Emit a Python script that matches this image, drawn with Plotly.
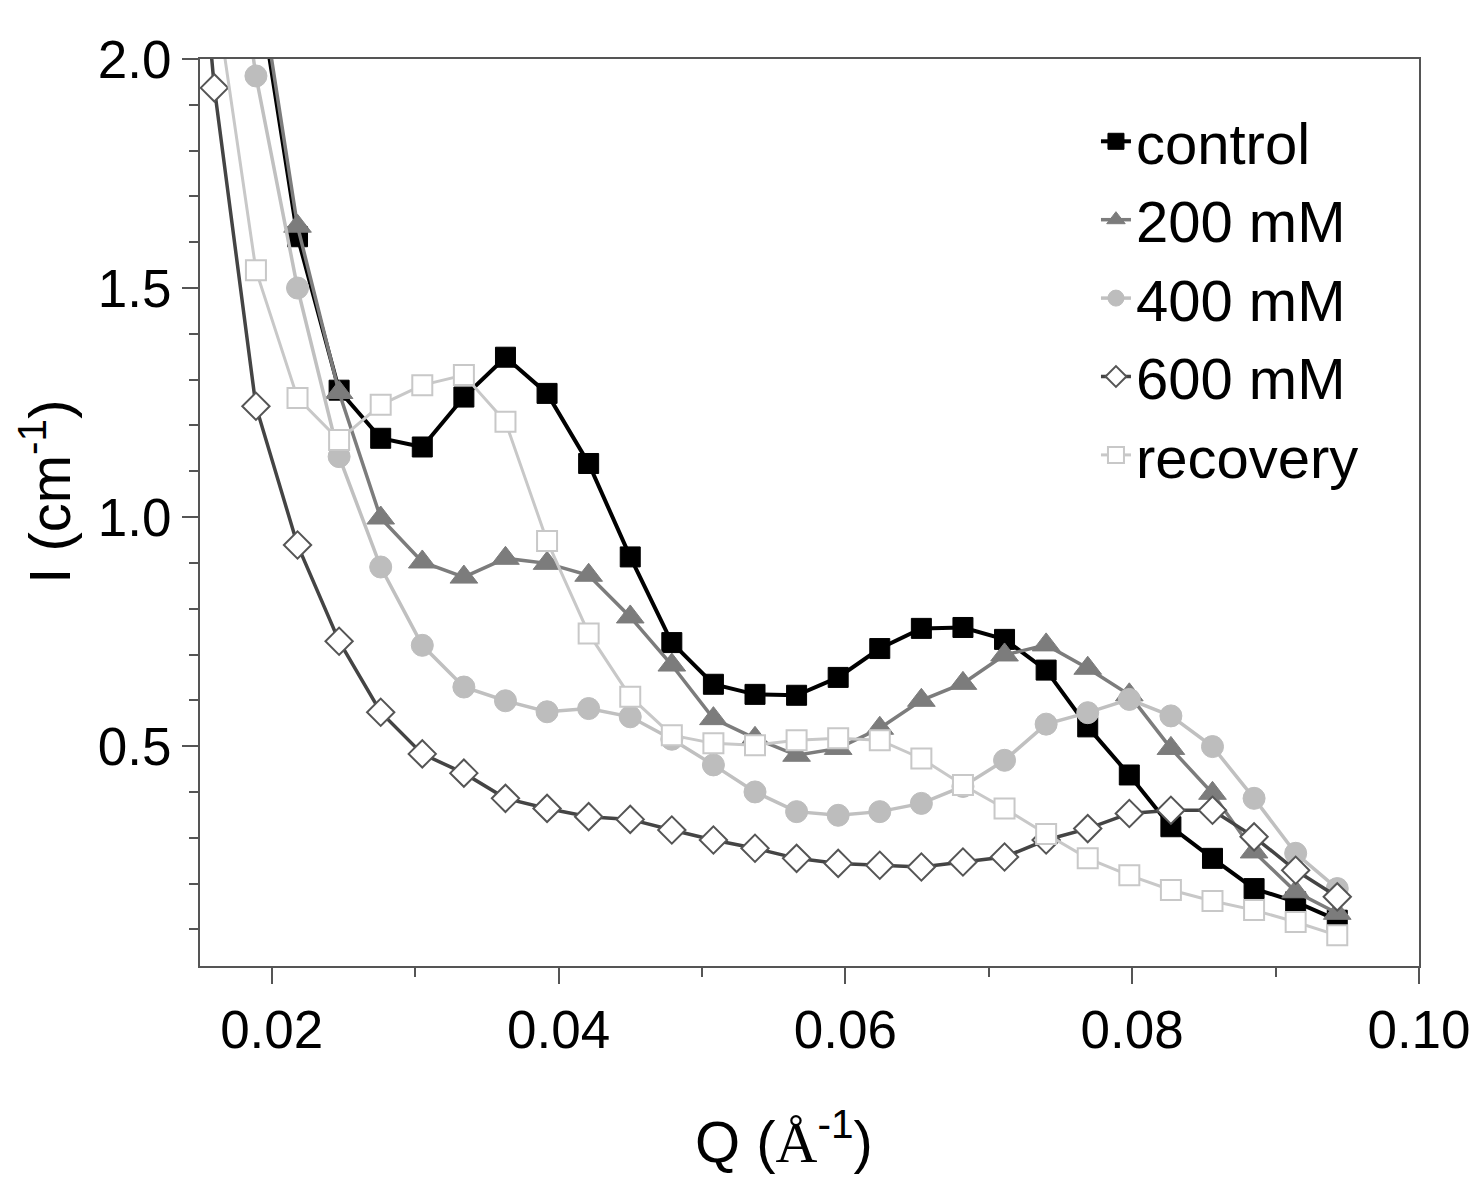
import plotly.graph_objects as go

# Scattering vector Q (1/Angstrom)
q = [0.0131, 0.0160, 0.0189, 0.0218, 0.0247, 0.0276, 0.0305, 0.0334, 0.0363, 0.0392,
     0.0421, 0.0450, 0.0479, 0.0508, 0.0537, 0.0566, 0.0595, 0.0624, 0.0653,
     0.0682, 0.0711, 0.0740, 0.0769, 0.0798, 0.0827, 0.0856, 0.0885, 0.0914, 0.0943]

# Intensity I (1/cm)
control = [None, 2.90, 2.19, 1.612, 1.277, 1.172, 1.153, 1.262, 1.349, 1.270,
           1.117, 0.913, 0.726, 0.635, 0.613, 0.611, 0.650, 0.713, 0.757,
           0.759, 0.733, 0.666, 0.542, 0.437, 0.324, 0.255, 0.189, 0.160, 0.12]
mm200 = [None, 2.95, 2.22, 1.635, 1.272, 0.998, 0.902, 0.869, 0.910, 0.899,
         0.873, 0.782, 0.677, 0.560, 0.517, 0.480, 0.495, 0.539, 0.600,
         0.637, 0.699, 0.721, 0.670, 0.612, 0.495, 0.397, 0.269, 0.182, 0.135]
mm400 = [None, 2.60, 1.963, 1.500, 1.132, 0.891, 0.720, 0.629, 0.599, 0.575,
         0.582, 0.564, 0.515, 0.459, 0.400, 0.357, 0.349, 0.357, 0.375,
         0.412, 0.469, 0.548, 0.573, 0.602, 0.566, 0.499, 0.386, 0.266, 0.189]
mm600 = [2.95, 1.937, 1.242, 0.939, 0.729, 0.574, 0.483, 0.441, 0.386, 0.364,
         0.346, 0.340, 0.317, 0.295, 0.277, 0.255, 0.244, 0.240, 0.236,
         0.247, 0.258, 0.295, 0.320, 0.353, 0.360, 0.360, 0.302, 0.229, 0.171]
recovery = [None, 2.16, 1.539, 1.260, 1.168, 1.245, 1.288, 1.310, 1.208, 0.948,
            0.746, 0.608, 0.524, 0.506, 0.502, 0.513, 0.517, 0.513, 0.473,
            0.415, 0.364, 0.308, 0.255, 0.218, 0.186, 0.162, 0.142, 0.116, 0.087]

names = ["control", "200 mM", "400 mM", "600 mM", "recovery"]

FONT = "Liberation Sans, Arial, sans-serif"

fig = go.Figure()

series = [
    (control, names[0], dict(symbol="square", size=20, color="#000000",
                             line=dict(color="#000000", width=1)), "#000000", 4),
    (mm200, names[1], dict(symbol="triangle-up", size=24, color="#7c7c7c",
                           line=dict(color="#7c7c7c", width=1)), "#7c7c7c", 3.5),
    (mm400, names[2], dict(symbol="circle", size=22, color="#bdbdbd",
                           line=dict(color="#bdbdbd", width=1)), "#c0c0c0", 3.5),
    (mm600, names[3], dict(symbol="diamond", size=21, color="#ffffff",
                           line=dict(color="#555555", width=2)), "#444444", 3.5),
    (recovery, names[4], dict(symbol="square", size=20, color="#ffffff",
                              line=dict(color="#c8c8c8", width=2)), "#c8c8c8", 3),
]

for ys, nm, mk, lc, lw in series:
    fig.add_trace(go.Scatter(
        x=q, y=ys, name=nm, mode="lines+markers",
        line=dict(color=lc, width=lw),
        marker=mk,
        connectgaps=False,
    ))

axis_common = dict(
    showline=True, linecolor="#555555", linewidth=2, mirror=True,
    ticks="outside", ticklen=16, tickwidth=2, tickcolor="#555555",
    showgrid=False, zeroline=False,
    tickfont=dict(family=FONT, size=53, color="#000000"),
)

fig.update_xaxes(
    range=[0.015, 0.10], dtick=0.02, tick0=0, tickformat=".2f",
    minor=dict(dtick=0.01, tick0=0, ticks="outside", ticklen=9,
               tickwidth=2, tickcolor="#555555"),
    **axis_common,
)
fig.update_yaxes(
    range=[0.02, 2.0], dtick=0.5, tick0=0, tickformat=".1f",
    minor=dict(dtick=0.1, tick0=0, ticks="outside", ticklen=9,
               tickwidth=2, tickcolor="#555555"),
    **axis_common,
)

fig.update_layout(
    width=1484, height=1194,
    margin=dict(l=200, r=65, t=59, b=228),
    paper_bgcolor="white", plot_bgcolor="white",
    font=dict(family=FONT, color="#000000"),
    showlegend=True,
    legend=dict(
        x=0.735, y=0.958, xanchor="left", yanchor="top",
        bgcolor="rgba(0,0,0,0)", borderwidth=0,
        font=dict(family=FONT, size=58, color="#000000"),
    ),
    annotations=[
        dict(text="Q (<span style=\"font-family:'Liberation Serif'\">Å</span><sup>-1</sup>)",
             xref="paper", yref="paper", x=0.479, y=-0.19,
             xanchor="center", yanchor="middle", showarrow=False,
             font=dict(family=FONT, size=58, color="#000000")),
        dict(text="I (cm<sup>-1</sup>)",
             xref="paper", yref="paper", x=-0.127, y=0.523,
             xanchor="center", yanchor="middle", showarrow=False, textangle=-90,
             font=dict(family=FONT, size=58, color="#000000")),
    ],
)

fig.write_html("out.html", config={"displayModeBar": False},
               post_script="document.body.style.margin='0';")
